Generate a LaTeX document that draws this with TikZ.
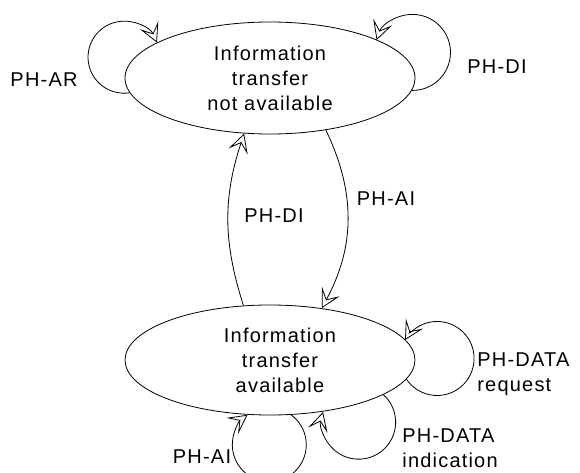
\documentclass[tikz,border=0pt]{standalone}
\usepackage{fontspec}
\setsansfont{Liberation Sans}[LetterSpace=6]
\usetikzlibrary{arrows.meta,positioning}
\usetikzlibrary{shapes.geometric}
\tikzset{every picture/.style={/utils/exec={\sffamily\fontsize{20}{25}\selectfont}}}

\begin{document}
\begin{tikzpicture}[x=1pt, y=1pt, node distance=282pt, line width=0.8pt]
  \tikzstyle{state} = [ellipse, minimum width=290pt, minimum height=112pt, inner sep=0pt, align=center, draw=black]
  \tikzstyle{arrow} = [-{Stealth[open, length=19pt, width=20pt, inset=9pt]}]
  \tikzstyle{tag} = [inner sep=0pt, align=left]

  \useasboundingbox (0,0) rectangle (580,472);
  \clip (0,0) rectangle (580,472);

  \node (na) [state] at (270,394) {Information\\transfer\\not available};
  \node (av) [state, below of=na, minimum height=110pt] {\hspace*{20pt}Information\\\hspace*{20pt}transfer\\\hspace*{20pt}available};

  \node (ar) [tag] at (44,392) {PH-AR};
  \node (di) [tag] at (497,405) {PH-DI};
  \node (dim) [tag] at (274,256) {PH-DI};
  \node (aim) [tag] at (386,273) {PH-AI};
  \node (req) [tag, anchor=west] at (477,98) {PH-DATA\\request};
  \node (ind) [tag, anchor=west] at (402,24) {PH-DATA\\indication};
  \node (aib) [tag] at (202,15) {PH-AI};

  % loops on the upper state
  \draw [arrow] (na.186) arc[start angle=279, end angle=24, radius=36];
  \draw [arrow] (na.355) arc[start angle=-91, end angle=161, radius=38];
  % between the two states
  \draw [arrow] (av.116) to[bend left=18] (na.245);
  \draw [arrow] (na.317) to[bend left=27] (av.45);
  % loops on the lower state
  \draw [arrow] (av.352) arc[start angle=-146, end angle=150, radius=37];
  \draw [arrow] (av.343) arc[start angle=48, end angle=-196, radius=37];
  \draw [arrow] (av.291) arc[start angle=54, end angle=-234, radius=37];
\end{tikzpicture}
\end{document}
